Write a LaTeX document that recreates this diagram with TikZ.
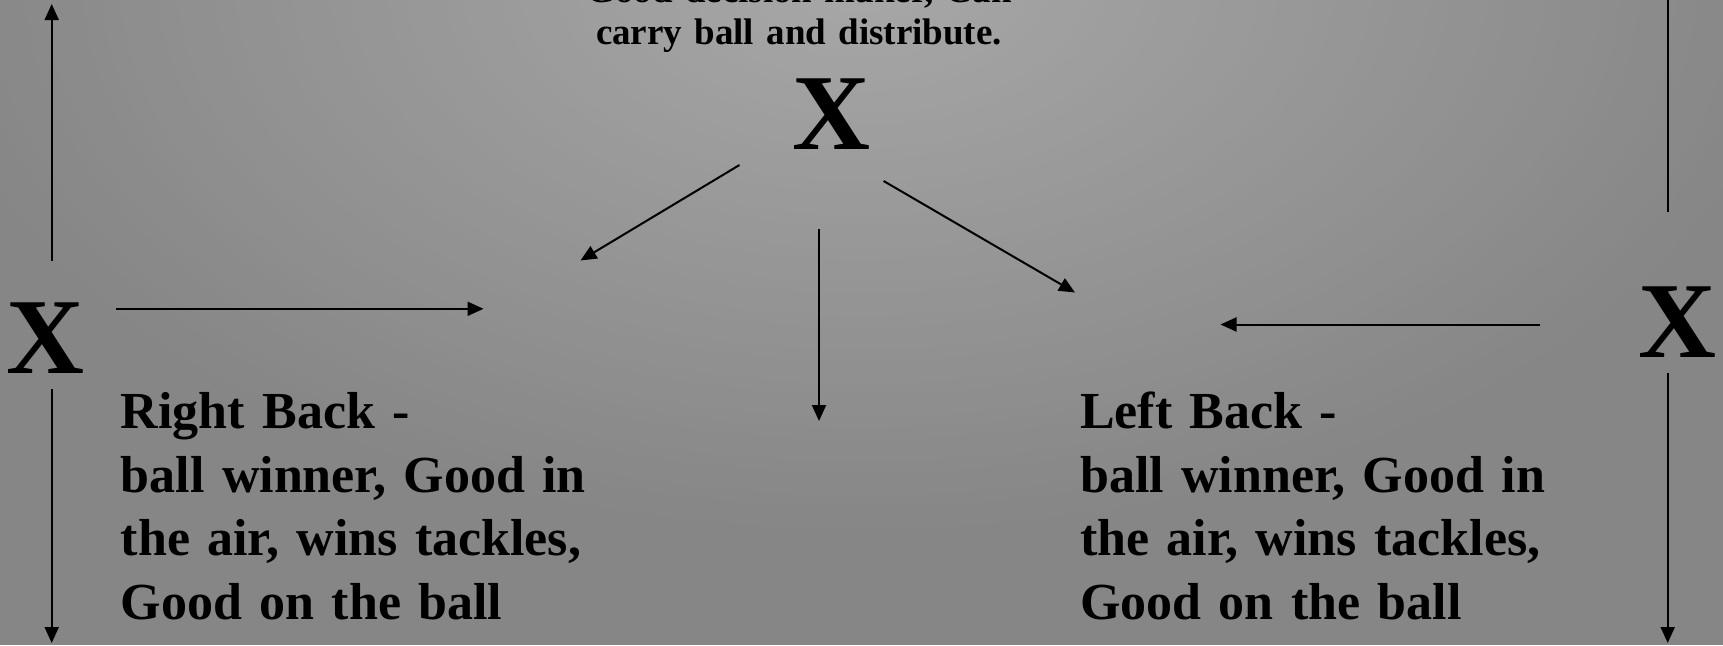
\documentclass[tikz,border=0pt]{standalone}
\usepackage{fontspec}
\setmainfont{Liberation Serif}
\usetikzlibrary{arrows.meta}
\definecolor{bgin}{RGB}{168,168,168}
\definecolor{bgout}{RGB}{134,134,134}
\tikzset{
  arr/.style={line width=2pt, -{Triangle[length=16pt,width=14pt]}},
  plainline/.style={line width=2pt},
  bigx/.style={font=\fontsize{108}{108}\selectfont\bfseries, inner sep=0pt},
  desc/.style={font=\fontsize{52}{63.7}\selectfont\bfseries, text width=600pt, align=left, inner sep=0pt, anchor=base west},
  toptext/.style={font=\fontsize{37}{42}\selectfont\bfseries, text width=600pt, align=center, inner sep=0pt, anchor=base}
}
\begin{document}
\begin{tikzpicture}[x=1pt,y=-1pt]
\useasboundingbox (0,0) rectangle (1723,645);
\clip (0,0) rectangle (1723,645);
% background radial gradient
\fill[bgout] (0,0) rectangle (1723,645);
\foreach \i in {50,...,1}{
  \pgfmathtruncatemacro\p{2*\i}
  \pgfmathsetmacro\rx{19*\i}
  \pgfmathsetmacro\ry{11.2*\i}
  \fill[bgout!\p!bgin] (861,-20) ellipse [x radius=\rx pt, y radius=\ry pt];
}
% X markers
\node[bigx] (xl) at (45,338) {X};
\node[bigx] (xc) at (831,113.7) {X};
\node[bigx] (xr) at (1677.4,321.7) {X};
% texts
\node[toptext] (cb) at (799,2) {Good decision maker, Can\\ carry ball and distribute.};
\node[desc] (rb) at (120.7,428.3) {Right Back -\\ ball winner, Good in\\ the air, wins tackles,\\ Good on the ball};
\node[desc] (lb) at (1080,428.3) {Left Back -\\ ball winner, Good in\\ the air, wins tackles,\\ Good on the ball};
% connector end points
\coordinate (lu0) at (51.7,260.7);  \coordinate (lu1) at (51.7,4);
\coordinate (ld0) at (51.7,389.3);  \coordinate (ld1) at (51.7,643);
\coordinate (lh0) at (116,308.8);   \coordinate (lh1) at (483.5,308.8);
\coordinate (cl0) at (739.5,165);   \coordinate (cl1) at (580.5,260.5);
\coordinate (cv0) at (819,229);     \coordinate (cv1) at (819,421);
\coordinate (cr0) at (883.6,181);   \coordinate (cr1) at (1075,292.5);
\coordinate (rh0) at (1540,324.5);  \coordinate (rh1) at (1220.5,324.5);
\coordinate (ru0) at (1667.7,212.3); \coordinate (ru1) at (1667.7,-2);
\coordinate (rd0) at (1667.7,372.7); \coordinate (rd1) at (1667.7,643);
% connectors
\draw[arr] (lu0) -- (lu1);
\draw[arr] (ld0) -- (ld1);
\draw[arr] (lh0) -- (lh1);
\draw[arr] (cl0) -- (cl1);
\draw[arr] (cv0) -- (cv1);
\draw[arr] (cr0) -- (cr1);
\draw[arr] (rh0) -- (rh1);
\draw[plainline] (ru0) -- (ru1);
\draw[arr] (rd0) -- (rd1);
\end{tikzpicture}
\end{document}
